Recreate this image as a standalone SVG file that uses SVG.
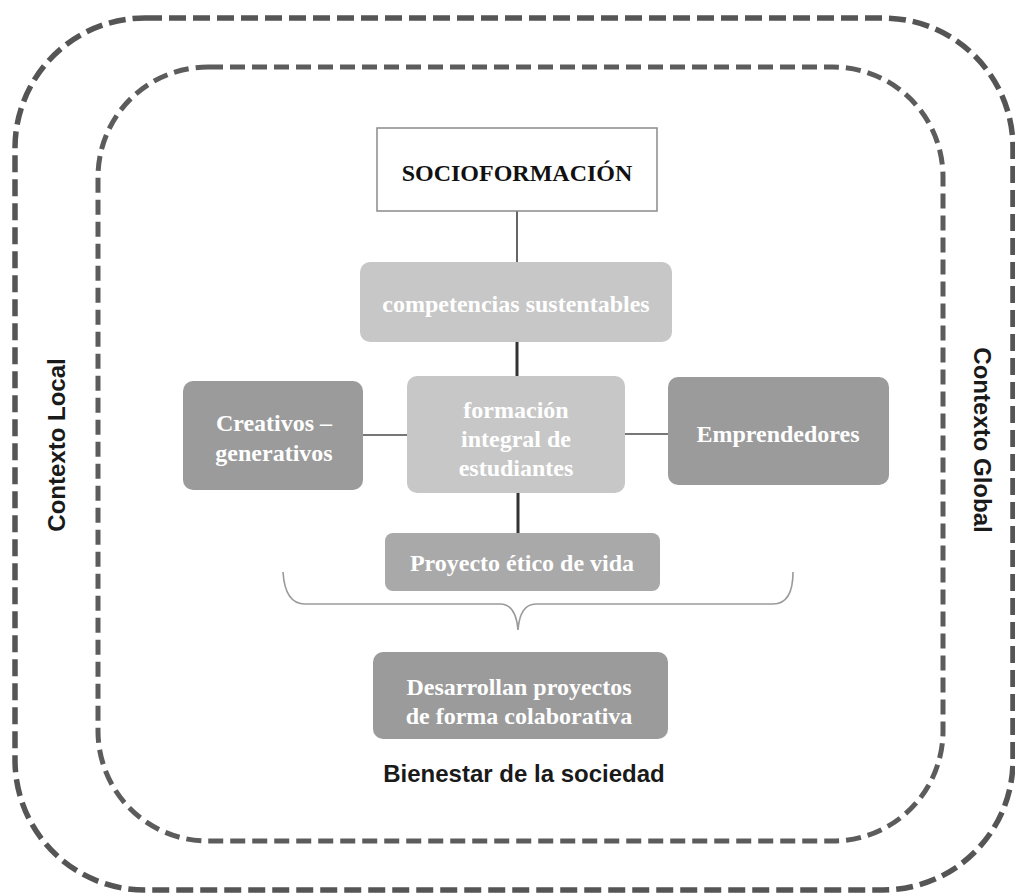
<svg xmlns="http://www.w3.org/2000/svg" width="1015" height="893" viewBox="0 0 1015 893">
<style>
.frame{fill:none;stroke:#555;stroke-width:5}
.outer{stroke-dasharray:17 7;stroke-width:5.5}
.inner{stroke-dasharray:15 7;stroke:#5c5c5c}
.box{stroke:none}
.light{fill:#c7c7c7}
.mid{fill:#a9a9a9}
.dark{fill:#9b9b9b}
.st{font-family:"Liberation Serif","Times New Roman",serif;font-weight:bold;font-size:24px;text-anchor:middle;fill:#fff}
.black{fill:#111}
.ss{font-family:"Liberation Sans",Arial,sans-serif;font-weight:bold;font-size:24px;text-anchor:middle;fill:#1a1a1a}
.c1{stroke:#666;stroke-width:2;fill:none}
.c2{stroke:#333;stroke-width:3;fill:none}
.c3{stroke:#777;stroke-width:2;fill:none}
.brace{stroke:#9a9a9a;stroke-width:1.6;fill:none}
</style>
<rect width="1015" height="893" fill="#fff"/>
<g id="frames">
<rect class="frame outer" x="15" y="18" width="998" height="872" rx="130" ry="130"/>
<rect class="frame inner" x="98" y="67" width="845" height="774" rx="110" ry="110"/>
</g>
<g id="connectors">
<line class="c1" x1="517" y1="211" x2="517" y2="262"/>
<line class="c2" x1="517" y1="342" x2="517" y2="376"/>
<line class="c3" x1="363" y1="435" x2="407" y2="435"/>
<line class="c3" x1="625" y1="434" x2="668" y2="434"/>
<line class="c2" x1="518" y1="493" x2="518" y2="533"/>
<path class="brace" d="M283,572 Q285,604 305,604 L500,604 Q516,604 518,630 Q520,604 536,604 L773,604 Q793,604 793,572"/>
</g>
<g id="socioformacion">
<rect x="377" y="128" width="280" height="83" fill="#fff" stroke="#8a8a8a" stroke-width="1.5"/>
<text class="st black" x="517" y="181">SOCIOFORMACIÓN</text>
</g>
<g id="competencias">
<rect class="box light" x="360" y="262" width="312" height="80" rx="10"/>
<text class="st" x="516" y="312">competencias sustentables</text>
</g>
<g id="formacion">
<rect class="box light" x="407" y="376" width="218" height="117" rx="10"/>
<text class="st" x="516" y="418">formación</text>
<text class="st" x="516" y="447">integral de</text>
<text class="st" x="516" y="476">estudiantes</text>
</g>
<g id="creativos">
<rect class="box dark" x="183" y="381" width="180" height="109" rx="10"/>
<text class="st" x="274" y="431">Creativos –</text>
<text class="st" x="274" y="461">generativos</text>
</g>
<g id="emprendedores">
<rect class="box dark" x="668" y="377" width="221" height="108" rx="10"/>
<text class="st" x="778" y="442">Emprendedores</text>
</g>
<g id="proyecto">
<rect class="box mid" x="385" y="533" width="275" height="58" rx="8"/>
<text class="st" x="522" y="571">Proyecto ético de vida</text>
</g>
<g id="desarrollan">
<rect class="box dark" x="373" y="652" width="295" height="87" rx="10"/>
<text class="st" x="519" y="695">Desarrollan proyectos</text>
<text class="st" x="519" y="724">de forma colaborativa</text>
</g>
<g id="bienestar">
<text class="ss" x="524" y="782">Bienestar de la sociedad</text>
</g>
<g id="contexto-local">
<text class="ss" transform="translate(65,445) rotate(-90)" x="0" y="0">Contexto Local</text>
</g>
<g id="contexto-global">
<text class="ss" transform="translate(974,440) rotate(90)" x="0" y="0">Contexto Global</text>
</g>
</svg>
